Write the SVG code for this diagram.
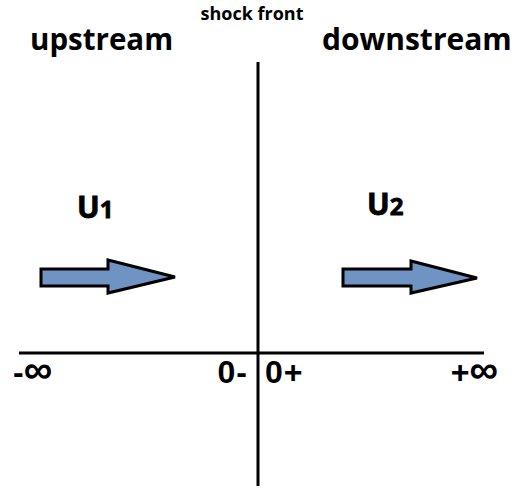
<svg xmlns="http://www.w3.org/2000/svg" width="515" height="488" viewBox="0 0 515 488">
<style>
.t{font-family:"Open Sans","DejaVu Sans",sans-serif;font-weight:bold;fill:#000}
.m{font-family:"Liberation Sans",Arial,sans-serif;font-weight:bold;fill:#000}
.ax{stroke:#000;stroke-width:3;fill:none}
.arr{fill:#6f93c2;stroke:#000;stroke-width:3;stroke-linejoin:miter}
</style>
<rect width="515" height="488" fill="#fff"/>
<g id="connectors">
<line class="ax" x1="258" y1="62" x2="258" y2="486"/>
<line class="ax" x1="19" y1="353" x2="484" y2="353"/>
</g>
<g id="shock-front"><text class="t" x="252" y="20" font-size="18" text-anchor="middle">shock front</text></g>
<g id="upstream"><text class="t" x="30" y="50" font-size="29.5">upstream</text></g>
<g id="downstream"><text class="t" x="322" y="50" font-size="30">downstream</text></g>
<g id="u1"><text class="t" x="77" y="218" font-size="30" stroke="#000" stroke-width="0.8">U<tspan font-size="24">1</tspan></text></g>
<g id="u2"><text class="t" x="367" y="215" font-size="30" stroke="#000" stroke-width="0.8">U<tspan font-size="24">2</tspan></text></g>
<g id="arrow1"><path class="arr" d="M41,269 H108 V260 L175,277 L108,293 V286 H41 Z"/></g>
<g id="arrow2"><path class="arr" d="M343,269 H411 V261 L477,278 L411,293 V286 H343 Z"/></g>
<g id="minus-inf"><text class="m" x="13" y="383" font-size="32">-<tspan font-size="40">∞</tspan></text></g>
<g id="zero-minus"><text class="m" x="248" y="383" font-size="32" letter-spacing="1" text-anchor="end">0-</text></g>
<g id="zero-plus"><text class="m" x="265" y="383" font-size="32" letter-spacing="1">0+</text></g>
<g id="plus-inf"><text class="m" x="498" y="383" font-size="32" text-anchor="end">+<tspan font-size="40">∞</tspan></text></g>
</svg>
